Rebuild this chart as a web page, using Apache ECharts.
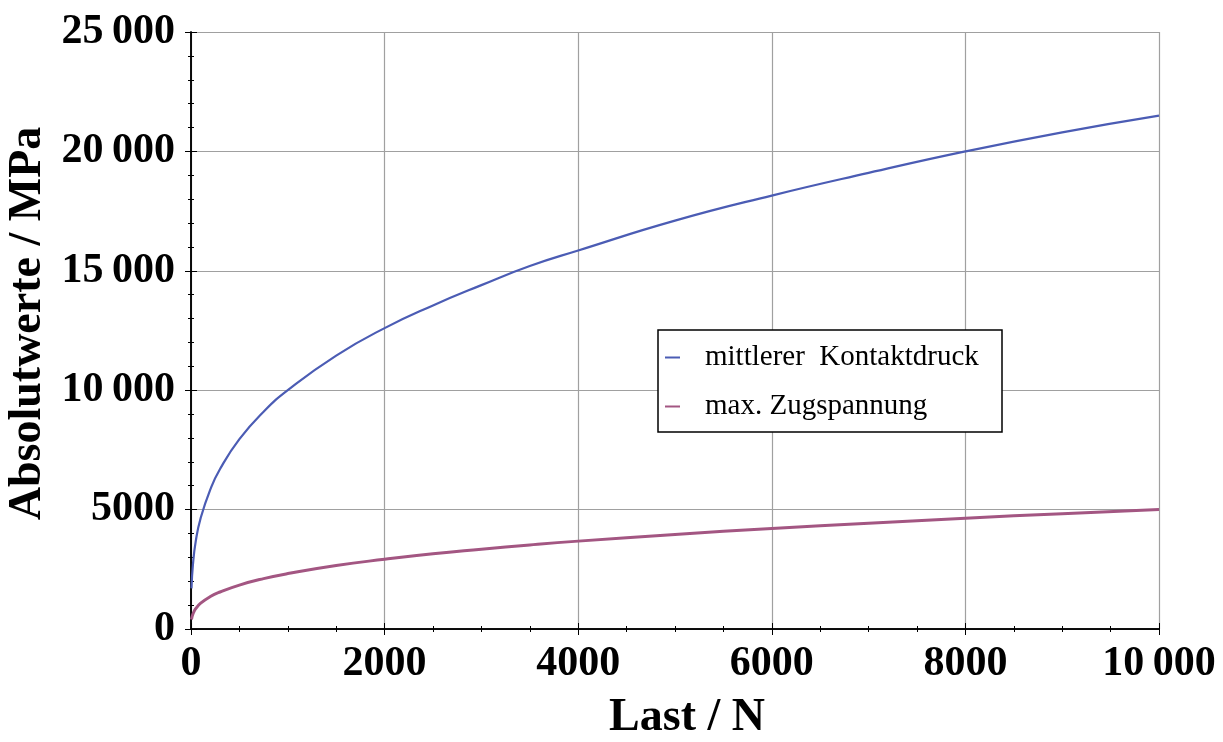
<!DOCTYPE html>
<html><head><meta charset="utf-8">
<script src="https://cdn.jsdelivr.net/npm/echarts@6/dist/echarts.min.js"></script>
<style>html,body{margin:0;padding:0;background:#fff}#c{width:1223px;height:742px}</style>
</head><body><div id="c"></div>
<script>
var lastN = [5, 20, 50, 100, 200, 300, 500, 750, 1000, 1500, 2000, 2500, 3000, 3500, 4000, 5000, 6000, 7000, 8000, 9000, 10000];
var kontaktdruck = [1700, 2700, 3700, 4650, 5850, 6700, 7950, 9100, 10000, 11450, 12600, 13550, 14400, 15200, 15850, 17100, 18150, 19100, 20000, 20800, 21500];
var zugspannung = [400, 630, 860, 1080, 1360, 1550, 1840, 2110, 2320, 2660, 2920, 3150, 3340, 3520, 3680, 3960, 4210, 4430, 4640, 4830, 5000];
var seriesNames = ['mittlerer  Kontaktdruck', 'max. Zugspannung'];
var xTitle = 'Last / N';
var yTitle = 'Absolutwerte / MPa';

function fmt(v){ return v >= 10000 ? String(v).replace(/(\d)(?=(\d{3})+$)/g, '$1\u2009') : String(v); }
function pairs(xs, ys){ return xs.map(function(x,i){ return [x, ys[i]]; }); }

var serif = 'Liberation Serif';
var chart = echarts.init(document.getElementById('c'));
var line = { show: true, lineStyle: { color: '#000', width: 1.5 } };
var majorTick = { show: true, inside: true, length: 6, lineStyle: { color: '#000', width: 1 } };
var minorTickAxis = { axisLine: { show: false }, axisLabel: { show: false }, splitLine: { show: false },
  axisTick: { show: true, inside: true, length: 3, lineStyle: { color: '#000', width: 1 } } };
function ax(base, extra){ return Object.assign({}, base, extra); }

chart.setOption({
  animation: false,
  grid: { left: 191, right: 64, top: 32, bottom: 113, containLabel: false, outerBoundsMode: 'none' },
  graphic: [{ type: 'rect', z: 3, shape: { x: 658, y: 330, width: 344, height: 102 },
    style: { fill: '#fff', stroke: '#000', lineWidth: 1.5 } }],
  legend: {
    orient: 'vertical', left: 665, top: 343, z: 10,
    padding: 0, itemGap: 20,
    itemWidth: 15, itemHeight: 2,
    icon: 'rect',
    textStyle: { fontFamily: serif, fontSize: 29, color: '#000', padding: [0, 0, 0, 20] },
    data: seriesNames
  },
  xAxis: [
    { type: 'value', min: 0, max: 10000, interval: 2000, position: 'bottom',
      axisLine: line, axisTick: majorTick,
      axisLabel: { formatter: fmt, fontFamily: serif, fontWeight: 'bold', fontSize: 42, color: '#000', margin: 14 },
      splitLine: { show: true, lineStyle: { color: '#a0a0a0', width: 1.2 } },
      name: xTitle, nameLocation: 'middle', nameGap: 66,
      nameTextStyle: { fontFamily: serif, fontWeight: 'bold', fontSize: 46, color: '#000', padding: [0, 0, 0, 24] } },
    { type: 'value', min: 0, max: 10000, interval: 2000, position: 'top',
      axisLine: line, axisTick: majorTick, axisLabel: { show: false }, splitLine: { show: false } },
    ax(minorTickAxis, { type: 'value', min: 0, max: 10000, interval: 500, position: 'bottom' }),
    ax(minorTickAxis, { type: 'value', min: 0, max: 10000, interval: 500, position: 'top' })
  ],
  yAxis: [
    { type: 'value', min: 0, max: 25000, interval: 5000, position: 'left',
      axisLine: line, axisTick: majorTick,
      axisLabel: { formatter: fmt, fontFamily: serif, fontWeight: 'bold', fontSize: 42, color: '#000', margin: 16 },
      splitLine: { show: true, lineStyle: { color: '#a0a0a0', width: 1.2 } },
      name: yTitle, nameLocation: 'middle', nameGap: 134, nameRotate: 90,
      nameTextStyle: { fontFamily: serif, fontWeight: 'bold', fontSize: 46, color: '#000', padding: [0, 0, 0, 14] } },
    { type: 'value', min: 0, max: 25000, interval: 5000, position: 'right',
      axisLine: line, axisTick: majorTick, axisLabel: { show: false }, splitLine: { show: false } },
    ax(minorTickAxis, { type: 'value', min: 0, max: 25000, interval: 1000, position: 'left' }),
    ax(minorTickAxis, { type: 'value', min: 0, max: 25000, interval: 1000, position: 'right' })
  ],
  series: [
    { name: seriesNames[0], type: 'line', smooth: true, showSymbol: false, symbol: 'none',
      xAxisIndex: 0, yAxisIndex: 0,
      data: pairs(lastN, kontaktdruck), itemStyle: { color: '#4b5cb4' }, lineStyle: { color: '#4b5cb4', width: 2.2 } },
    { name: seriesNames[1], type: 'line', smooth: true, showSymbol: false, symbol: 'none',
      xAxisIndex: 0, yAxisIndex: 0,
      data: pairs(lastN, zugspannung), itemStyle: { color: '#a35682' }, lineStyle: { color: '#a35682', width: 3 } }
  ]
});
</script></body></html>
